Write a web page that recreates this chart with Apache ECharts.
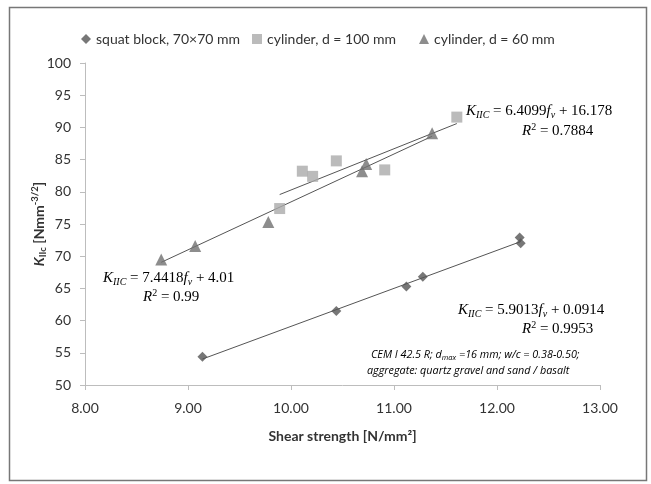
<!DOCTYPE html>
<html>
<head>
<meta charset="utf-8">
<script src="https://cdn.jsdelivr.net/npm/echarts@6/dist/echarts.min.js"></script>
<style>
  html, body { margin: 0; padding: 0; background: #fff; }
  #chart { width: 651px; height: 484px; }
</style>
</head>
<body>
<div id="chart"></div>
<script>
// Measured shear strength [N/mm²] vs. mode II fracture toughness K_IIc
const squatX = [9.14, 10.44, 11.12, 11.28, 12.22, 12.23];
const squatY = [54.4, 61.5, 65.3, 66.8, 72.9, 72.0];

const cyl100X = [9.89, 10.11, 10.21, 10.44, 10.91, 11.61];
const cyl100Y = [77.4, 83.2, 82.4, 84.8, 83.4, 91.6];

const cyl60X = [8.74, 9.07, 9.78, 10.69, 10.73, 11.37];
const cyl60Y = [69.5, 71.6, 75.3, 83.2, 84.3, 89.1];

// Linear fits: [slope, intercept]
const fitSquat = [5.9013, 0.0914];
const fit100 = [6.4099, 16.178];
const fit60 = [7.4418, 4.01];

const xTicks = [8, 9, 10, 11, 12, 13];
const yTicks = [50, 55, 60, 65, 70, 75, 80, 85, 90, 95, 100];

const seriesNames = ['squat block, 70×70 mm', 'cylinder, d = 100 mm', 'cylinder, d = 60 mm'];

const zip = (xs, ys) => xs.map((x, i) => [x, ys[i]]);
const fitLine = (xs, c) => {
  const lo = Math.min(...xs), hi = Math.max(...xs);
  return [[lo, c[0] * lo + c[1]], [hi, c[0] * hi + c[1]]];
};

const chart = echarts.init(document.getElementById('chart'));

const serif = 'Liberation Serif';
const eqRich = {
  k: { fontFamily: serif, fontStyle: 'italic', fontSize: 15, color: '#222' },
  sub: { fontFamily: serif, fontStyle: 'italic', fontSize: 10, color: '#222', verticalAlign: 'bottom', lineHeight: 18 },
  n: { fontFamily: serif, fontSize: 15, color: '#222' },
  f: { fontFamily: serif, fontStyle: 'italic', fontSize: 15, color: '#222' },
  sup: { fontFamily: serif, fontSize: 10, color: '#222', verticalAlign: 'top', lineHeight: 18 }
};
const eqText = (c) =>
  '{k|K}{sub|IIC}{n| = ' + c[0].toString() + '}{f|f}{sub|v}{n| + ' + c[1].toString() + '}';
const r2Text = (r) => '{k|R}{sup|2}{n| = ' + r + '}';

function eqGraphic(x, y, text) {
  return {
    type: 'text', left: x, top: y,
    style: { text: text, rich: eqRich, align: 'left' }
  };
}

const noteStyle = {
  fontFamily: 'Open Sans', fontStyle: 'italic', fontSize: 10.8, color: '#333'
};

const colors = ['#555', '#aaa', '#707070'];
const icons = ['diamond', 'rect', 'triangle'];
const legendLeft = [76, 247, 414];

const legendTextStyle = { fontFamily: 'Lato', fontSize: 14, color: '#333' };

chart.setOption({
  animation: false,
  backgroundColor: '#fff',
  textStyle: { fontFamily: 'Lato' },
  grid: { left: 85, right: 51, top: 63, bottom: 99, containLabel: false },
  legend: seriesNames.map((n, i) => ({
    top: 27, left: legendLeft[i],
    itemWidth: 10, itemHeight: 10, itemGap: 0,
    textStyle: legendTextStyle,
    data: [{ name: n, icon: icons[i], itemStyle: { color: colors[i] } }]
  })),
  xAxis: {
    type: 'value', min: xTicks[0], max: xTicks[xTicks.length - 1], interval: 1,
    name: 'Shear strength [N/mm²]', nameLocation: 'middle', nameGap: 44,
    nameMoveOverlap: false,
    nameTextStyle: { fontFamily: 'Lato', fontWeight: 'bold', fontSize: 14, color: '#333' },
    axisLine: { lineStyle: { color: '#bdbdbd', width: 1 } },
    axisTick: { show: true, inside: false, length: 5, lineStyle: { color: '#bdbdbd' } },
    axisLabel: { margin: 16, fontSize: 14, color: '#333', formatter: (v) => v.toFixed(2) },
    splitLine: { show: false }
  },
  yAxis: {
    type: 'value', min: yTicks[0], max: yTicks[yTicks.length - 1], interval: 5,
    name: '{i|K}{sb|IIc}{t| [Nmm}{sp|-3/2}{t|]}', nameLocation: 'middle', nameGap: 37,
    nameMoveOverlap: false,
    nameRotate: 90,
    nameTextStyle: {
      rich: {
        i: { fontFamily: 'Lato', fontWeight: 'bold', fontStyle: 'italic', fontSize: 14, color: '#333' },
        sb: { fontFamily: 'Lato', fontWeight: 'bold', fontSize: 9.5, color: '#333', verticalAlign: 'bottom', lineHeight: 18 },
        t: { fontFamily: 'Lato', fontWeight: 'bold', fontSize: 14, color: '#333' },
        sp: { fontFamily: 'Lato', fontWeight: 'bold', fontSize: 9.5, color: '#333', verticalAlign: 'top', lineHeight: 18 }
      }
    },
    axisLine: { show: true, lineStyle: { color: '#bdbdbd', width: 1 } },
    axisTick: { show: true, inside: false, length: 5, lineStyle: { color: '#bdbdbd' } },
    axisLabel: { margin: 14, fontSize: 14, color: '#333' },
    splitLine: { show: false }
  },
  series: [
    {
      name: 'fit squat', type: 'line', data: fitLine(squatX, fitSquat),
      symbol: 'none', lineStyle: { color: '#555', width: 1 }, z: 1, silent: true
    },
    {
      name: 'fit 100', type: 'line', data: fitLine(cyl100X, fit100),
      symbol: 'none', lineStyle: { color: '#555', width: 1 }, z: 1, silent: true
    },
    {
      name: 'fit 60', type: 'line', data: fitLine(cyl60X, fit60),
      symbol: 'none', lineStyle: { color: '#555', width: 1 }, z: 1, silent: true
    },
    {
      name: seriesNames[0], type: 'scatter', data: zip(squatX, squatY),
      symbol: 'diamond', symbolSize: 10, itemStyle: { color: colors[0] }, z: 3
    },
    {
      name: seriesNames[1], type: 'scatter', data: zip(cyl100X, cyl100Y),
      symbol: 'rect', symbolSize: 11, itemStyle: { color: colors[1] }, z: 2
    },
    {
      name: seriesNames[2], type: 'scatter', data: zip(cyl60X, cyl60Y),
      symbol: 'triangle', symbolSize: 12, itemStyle: { color: colors[2] }, z: 3
    }
  ],
  graphic: [
    {
      type: 'rect', left: 7, top: 5, silent: true,
      shape: { width: 637, height: 473 },
      style: { fill: 'none', stroke: '#777', lineWidth: 1.5 }
    },
    eqGraphic(466, 104, eqText(fit100)),
    eqGraphic(522, 122, r2Text('0.7884')),
    eqGraphic(103, 271, eqText(fit60)),
    eqGraphic(143, 288, r2Text('0.99')),
    eqGraphic(458, 303, eqText(fitSquat)),
    eqGraphic(522, 320, r2Text('0.9953')),
    {
      type: 'text', left: 371, top: 349,
      style: {
        text: '{a|CEM I 42.5 R; d}{s|max}{a| =16 mm; w/c = 0.38-0.50;}',
        rich: {
          a: noteStyle,
          s: Object.assign({}, noteStyle, { fontSize: 7.5, verticalAlign: 'bottom', lineHeight: 15 })
        }
      }
    },
    {
      type: 'text', left: 367, top: 365,
      style: Object.assign({ text: 'aggregate: quartz gravel and sand / basalt' }, noteStyle)
    }
  ]
});
</script>
</body>
</html>
